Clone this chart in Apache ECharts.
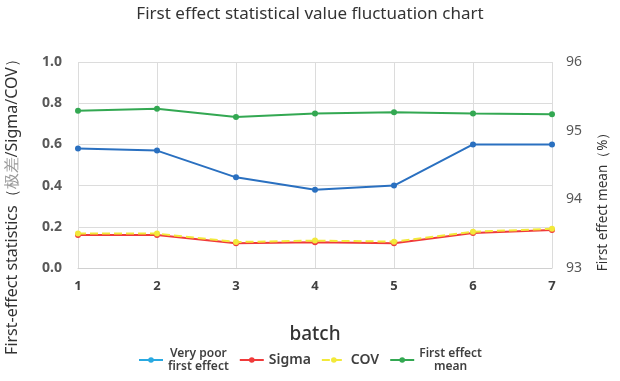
<!DOCTYPE html>
<html><head><meta charset="utf-8">
<script src="https://cdn.jsdelivr.net/npm/echarts@6/dist/echarts.min.js"></script>
<style>html,body{margin:0;padding:0;background:#fff}#c{width:620px;height:381px}</style>
</head><body><div id="c"></div>
<script>
const categories = ['1','2','3','4','5','6','7'];
const veryPoor = [0.58, 0.57, 0.44, 0.38, 0.40, 0.60, 0.60];
const sigma = [0.16, 0.16, 0.12, 0.125, 0.12, 0.17, 0.185];
const cov = [0.167, 0.167, 0.126, 0.133, 0.128, 0.176, 0.19];
const meanVal = [95.29, 95.32, 95.20, 95.25, 95.27, 95.25, 95.24];
const seriesNames = ['Very poor\nfirst effect', 'Sigma', 'COV', 'First effect\nmean'];

const font = 'Noto Sans';
const chart = echarts.init(document.getElementById('c'));
chart.setOption({
  animation: false,
  textStyle: {fontFamily: font},
  title: {text: 'First effect statistical value fluctuation chart', left: 'center', top: 1,
    textStyle: {fontFamily: font, fontSize: 17, fontWeight: 'normal', color: '#333'}},
  grid: {left: 78, right: 68, top: 62, bottom: 113, outerBoundsMode: 'none', containLabel: false},
  legend: {
    bottom: 3, left: 'center', itemWidth: 24, itemHeight: 7, itemGap: 10,
    textStyle: {fontSize: 12, fontWeight: 600, color: '#404040', lineHeight: 13,
      rich: {m: {fontSize: 12, fontWeight: 600, color: '#404040', lineHeight: 13, align: 'center'},
             s: {fontSize: 14, fontWeight: 600, color: '#404040'}}},
    formatter: n => n.indexOf('\n') >= 0 ? n.split('\n').map(l => '{m|' + l + '}').join('\n') : '{s|' + n + '}',
    data: [
      {name: seriesNames[0], itemStyle: {color: '#29a9e1'}, lineStyle: {color: '#29a9e1'}},
      {name: seriesNames[1]},
      {name: seriesNames[2]},
      {name: seriesNames[3]}
    ]
  },
  xAxis: {
    type: 'category', data: categories, boundaryGap: false,
    name: 'batch', nameLocation: 'middle', nameGap: 57,
    nameTextStyle: {fontSize: 19, fontWeight: 500, color: '#333'},
    axisLine: {lineStyle: {color: '#d0d0d0'}},
    axisTick: {show: false},
    axisLabel: {fontSize: 13, fontWeight: 'bold', color: '#404040', margin: 12},
    splitLine: {show: true, lineStyle: {color: '#dcdcdc'}}
  },
  yAxis: [
    {type: 'value', min: 0, max: 1, interval: 0.2,
      name: 'First-effect statistics（{g|极差}/Sigma/COV）', nameLocation: 'middle', nameGap: 58,
      nameTextStyle: {fontSize: 16, color: '#333', padding: [0, 76, 0, 0], rich: {g: {color: '#999', fontSize: 16}}},
      axisLine: {show: false}, axisTick: {show: false},
      axisLabel: {formatter: v => v.toFixed(1), fontSize: 14, fontWeight: 'bold', color: '#595959', margin: 16},
      splitLine: {lineStyle: {color: '#dcdcdc'}}},
    {type: 'value', min: 93, max: 96, interval: 1,
      name: 'First effect mean（%）' + '\u00a0'.repeat(19), nameLocation: 'middle', nameGap: 44,
      nameTextStyle: {fontSize: 13.5, color: '#333'},
      axisLine: {show: false}, axisTick: {show: false},
      axisLabel: {fontSize: 14, color: '#595959', margin: 14},
      splitLine: {show: false}}
  ],
  series: [
    {name: seriesNames[0], type: 'line', data: veryPoor, symbol: 'circle', symbolSize: 6,
      itemStyle: {color: '#2a70c0'}, lineStyle: {width: 2, color: '#2a70c0'}},
    {name: seriesNames[1], type: 'line', data: sigma, symbol: 'circle', symbolSize: 6,
      itemStyle: {color: '#f03a3a'}, lineStyle: {width: 2}},
    {name: seriesNames[2], type: 'line', data: cov, symbol: 'circle', symbolSize: 6,
      itemStyle: {color: '#f2e93a'}, lineStyle: {width: 2, type: 'dashed'}},
    {name: seriesNames[3], type: 'line', yAxisIndex: 1, data: meanVal, symbol: 'circle', symbolSize: 6,
      itemStyle: {color: '#33a852'}, lineStyle: {width: 2}}
  ]
});
</script></body></html>
